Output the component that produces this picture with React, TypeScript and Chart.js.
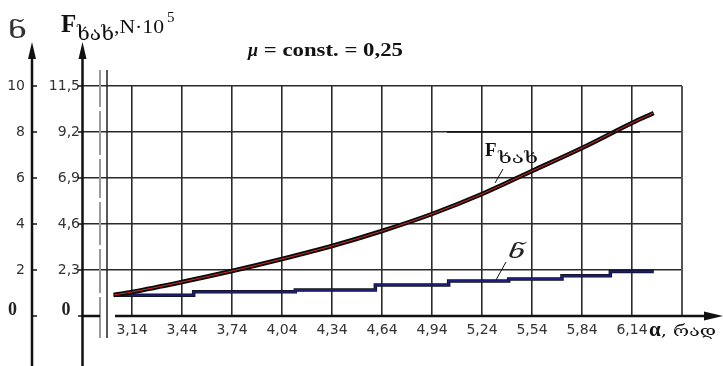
import React, { useEffect, useRef } from 'react';
import { Chart, registerables } from 'chart.js';

Chart.register(...registerables);

// ---- data ----
const xTicks = [3.14, 3.44, 3.74, 4.04, 4.34, 4.64, 4.94, 5.24, 5.54, 5.84, 6.14];
const xTickLabels = ['3,14', '3,44', '3,74', '4,04', '4,34', '4,64', '4,94', '5,24', '5,54', '5,84', '6,14'];
const fTicks = [0, 2.3, 4.6, 6.9, 9.2, 11.5];
const fTickLabels = ['0', '2,3', '4,6', '6,9', '9,2', '11,5'];
const dTicks = [0, 2, 4, 6, 8, 10];
const dTickLabels = ['0', '2', '4', '6', '8', '10'];

const alphaF = [3.03, 3.14, 3.44, 3.74, 4.04, 4.34, 4.64, 4.94, 5.24, 5.54, 5.84, 6.14, 6.27];
const fFriction = [1.05, 1.2, 1.7, 2.25, 2.85, 3.5, 4.25, 5.1, 6.1, 7.25, 8.4, 9.65, 10.15];
const alphaD = [3.03, 3.51, 4.12, 4.6, 5.04, 5.4, 5.72, 6.01, 6.27];
const deltaVals = [0.9, 1.05, 1.13, 1.35, 1.52, 1.61, 1.75, 1.93, 1.93];

const titleMu = 'μ';
const titleRest = ' = const. = 0,25';
const deltaSym = 'ნ';
const fSub = 'ხახ';
const fUnit = ',N·10';
const fExp = '5';
const xName = 'α';
const xUnit = ', რად';

const TICK_FONT = { family: '"DejaVu Sans", sans-serif', size: 14 };
const TICK_COLOR = '#333';
const GRID = '#2a2a2a';

function fitText(ctx: CanvasRenderingContext2D, text: string, x: number, y: number, width: number) {
  const w = ctx.measureText(text).width;
  ctx.save();
  ctx.translate(x, y);
  ctx.scale(width / w, 1);
  ctx.fillText(text, 0, 0);
  ctx.restore();
}

const decorPlugin = {
  id: 'decor',
  afterDraw(chart: any) {
    const ctx = chart.ctx as CanvasRenderingContext2D;
    const ca = chart.chartArea;
    const yF = chart.scales.yF;
    const yD = chart.scales.yD;
    const y0 = yF.getPixelForValue(0);
    ctx.save();
    ctx.lineCap = 'butt';

    // frame right
    ctx.strokeStyle = '#555';
    ctx.lineWidth = 2;
    ctx.beginPath();
    ctx.moveTo(ca.right, ca.top);
    ctx.lineTo(ca.right, y0);
    ctx.stroke();

    // double break lines
    ctx.strokeStyle = '#9a9a9a';
    ctx.lineWidth = 2;
    ctx.beginPath();
    ctx.moveTo(100, 70);
    ctx.lineTo(100, 338);
    ctx.stroke();
    ctx.strokeStyle = '#fff';
    ctx.lineWidth = 3;
    [109, 157, 200, 247, 295].forEach((gy) => {
      ctx.beginPath();
      ctx.moveTo(100, gy - 2);
      ctx.lineTo(100, gy + 2);
      ctx.stroke();
    });
    ctx.strokeStyle = '#222';
    ctx.lineWidth = 1.5;
    ctx.beginPath();
    ctx.moveTo(107, 70);
    ctx.lineTo(107, 338);
    ctx.stroke();

    // vertical axes
    ctx.strokeStyle = '#111';
    ctx.fillStyle = '#111';
    ctx.lineWidth = 2.5;
    [32, 82.5].forEach((ax) => {
      ctx.beginPath();
      ctx.moveTo(ax, 52);
      ctx.lineTo(ax, 366);
      ctx.stroke();
      ctx.beginPath();
      ctx.moveTo(ax, 42);
      ctx.lineTo(ax - 4, 59);
      ctx.lineTo(ax + 4, 59);
      ctx.closePath();
      ctx.fill();
    });
    // ticks
    ctx.lineWidth = 1.5;
    dTicks.forEach((v) => {
      const py = yD.getPixelForValue(v);
      ctx.beginPath();
      ctx.moveTo(32, py);
      ctx.lineTo(37, py);
      ctx.stroke();
    });
    fTicks.forEach((v) => {
      const py = yF.getPixelForValue(v);
      ctx.beginPath();
      ctx.moveTo(78, py);
      ctx.lineTo(83, py);
      ctx.stroke();
    });

    // x axis
    ctx.lineWidth = 2.5;
    ctx.beginPath();
    ctx.moveTo(82, y0);
    ctx.lineTo(100, y0);
    ctx.moveTo(115, y0);
    ctx.lineTo(710, y0);
    ctx.stroke();
    ctx.beginPath();
    ctx.moveTo(723, y0);
    ctx.lineTo(704, y0 - 4.5);
    ctx.lineTo(704, y0 + 4.5);
    ctx.closePath();
    ctx.fill();

    // zero labels
    ctx.font = 'bold 18px "Liberation Serif", serif';
    ctx.textAlign = 'center';
    ctx.textBaseline = 'alphabetic';
    ctx.fillStyle = '#222';
    ctx.fillText(dTickLabels[0], 12.5, 315);
    ctx.fillText(fTickLabels[0], 66, 315);

    // axis titles
    ctx.textAlign = 'left';
    ctx.fillStyle = '#333';
    ctx.font = '23px "DejaVu Serif", "DejaVu Sans", serif';
    fitText(ctx, deltaSym, 8, 38, 19);

    ctx.fillStyle = '#111';
    ctx.font = 'bold 25px "Liberation Serif", serif';
    ctx.fillText('F', 61, 32);
    ctx.font = '18px "DejaVu Serif", "DejaVu Sans", serif';
    fitText(ctx, fSub, 77, 40, 37);
    ctx.font = '18px "Liberation Serif", serif';
    fitText(ctx, fUnit, 114, 33, 50);
    ctx.font = '15px "Liberation Serif", serif';
    ctx.fillText(fExp, 167, 22);

    // title
    ctx.font = 'bold italic 18px "Liberation Serif", serif';
    const muW = ctx.measureText(titleMu).width;
    ctx.fillText(titleMu, 248, 56);
    ctx.font = 'bold 18px "Liberation Serif", serif';
    fitText(ctx, titleRest, 248 + muW, 56, 403 - 248 - muW);

    // x axis title
    ctx.font = 'bold 21px "Liberation Serif", serif';
    ctx.fillText(xName, 649, 336);
    const aW = ctx.measureText(xName).width;
    ctx.font = '15px "DejaVu Serif", "DejaVu Sans", serif';
    fitText(ctx, xUnit, 649 + aW, 336, 716 - 649 - aW);

    // in-plot annotations
    ctx.strokeStyle = '#111';
    ctx.lineWidth = 1.5;
    ctx.beginPath();
    ctx.moveTo(447, yF.getPixelForValue(9.2));
    ctx.lineTo(640, yF.getPixelForValue(9.2));
    ctx.stroke();

    ctx.font = 'bold 19px "Liberation Serif", serif';
    ctx.fillText('F', 485, 156);
    ctx.font = '14px "DejaVu Serif", "DejaVu Sans", serif';
    fitText(ctx, fSub, 498, 163, 40);
    ctx.lineWidth = 1;
    ctx.beginPath();
    ctx.moveTo(503, 169);
    ctx.lineTo(495, 183);
    ctx.stroke();

    ctx.font = 'italic 19px "DejaVu Serif", "DejaVu Sans", serif';
    ctx.fillStyle = '#222';
    fitText(ctx, deltaSym, 508, 258, 17);
    ctx.beginPath();
    ctx.moveTo(506, 262);
    ctx.lineTo(496, 280);
    ctx.stroke();

    ctx.restore();
  },
};

export default function App() {
  const ref = useRef<HTMLCanvasElement | null>(null);

  useEffect(() => {
    if (!ref.current) return;
    const fPts = alphaF.map((a, i) => ({ x: a, y: fFriction[i] }));
    const dPts = alphaD.map((a, i) => ({ x: a, y: deltaVals[i] }));
    const chart = new Chart(ref.current, {
      type: 'line',
      data: {
        datasets: [
          {
            label: 'F red',
            data: fPts,
            yAxisID: 'yF',
            borderColor: '#d42a2a',
            borderWidth: 1,
            pointRadius: 0,
            cubicInterpolationMode: 'monotone',
          },
          {
            label: 'F',
            data: fPts,
            yAxisID: 'yF',
            borderColor: '#0a0a0a',
            borderWidth: 4.5,
            pointRadius: 0,
            cubicInterpolationMode: 'monotone',
          },
          {
            label: 'delta blue',
            data: dPts,
            yAxisID: 'yD',
            borderColor: '#1c1c7a',
            borderWidth: 2,
            pointRadius: 0,
            stepped: true,
          },
          {
            label: 'delta',
            data: dPts,
            yAxisID: 'yD',
            borderColor: '#111',
            borderWidth: 3.5,
            pointRadius: 0,
            stepped: true,
          },
        ],
      },
      options: {
        animation: false,
        responsive: false,
        devicePixelRatio: 1,
        layout: { padding: { top: 86, left: 0, right: 41, bottom: 0 } },
        plugins: { legend: { display: false }, tooltip: { enabled: false } },
        scales: {
          x: {
            type: 'linear',
            position: 'bottom',
            min: 2.846,
            max: 6.44,
            afterBuildTicks: (s: any) => {
              s.ticks = xTicks.map((v) => ({ value: v }));
            },
            afterFit: (s: any) => {
              s.height = 50;
            },
            ticks: {
              autoSkip: false,
              maxRotation: 0,
              padding: 6,
              font: TICK_FONT,
              color: TICK_COLOR,
              callback: (_v: any, i: number) => xTickLabels[i],
            },
            grid: { color: GRID, lineWidth: 1.6, drawTicks: false },
            border: { display: false },
          },
          yF: {
            type: 'linear',
            position: 'left',
            weight: 0,
            min: 0,
            max: 11.5,
            afterBuildTicks: (s: any) => {
              s.ticks = fTicks.map((v) => ({ value: v }));
            },
            afterFit: (s: any) => {
              s.width = 50;
            },
            ticks: {
              autoSkip: false,
              padding: 3,
              font: TICK_FONT,
              color: TICK_COLOR,
              callback: (_v: any, i: number) => (i === 0 ? '' : fTickLabels[i]),
            },
            grid: {
              color: (c: any) => (c.tick && c.tick.value === 0 ? 'rgba(0,0,0,0)' : GRID),
              lineWidth: 1.6,
              drawTicks: false,
            },
            border: { display: false },
          },
          yD: {
            type: 'linear',
            position: 'left',
            weight: 1,
            min: 0,
            max: 10,
            afterBuildTicks: (s: any) => {
              s.ticks = dTicks.map((v) => ({ value: v }));
            },
            afterFit: (s: any) => {
              s.width = 33;
            },
            ticks: {
              autoSkip: false,
              padding: 8,
              font: TICK_FONT,
              color: TICK_COLOR,
              callback: (_v: any, i: number) => (i === 0 ? '' : dTickLabels[i]),
            },
            grid: { display: false, drawTicks: false },
            border: { display: false },
          },
        },
      },
      plugins: [decorPlugin],
    } as any);
    return () => chart.destroy();
  }, []);

  return (
    <div style={{ position: 'absolute', left: 0, top: 0, width: 723, height: 366, background: '#fff' }}>
      <canvas ref={ref} width={723} height={366} style={{ display: 'block' }} />
    </div>
  );
}
